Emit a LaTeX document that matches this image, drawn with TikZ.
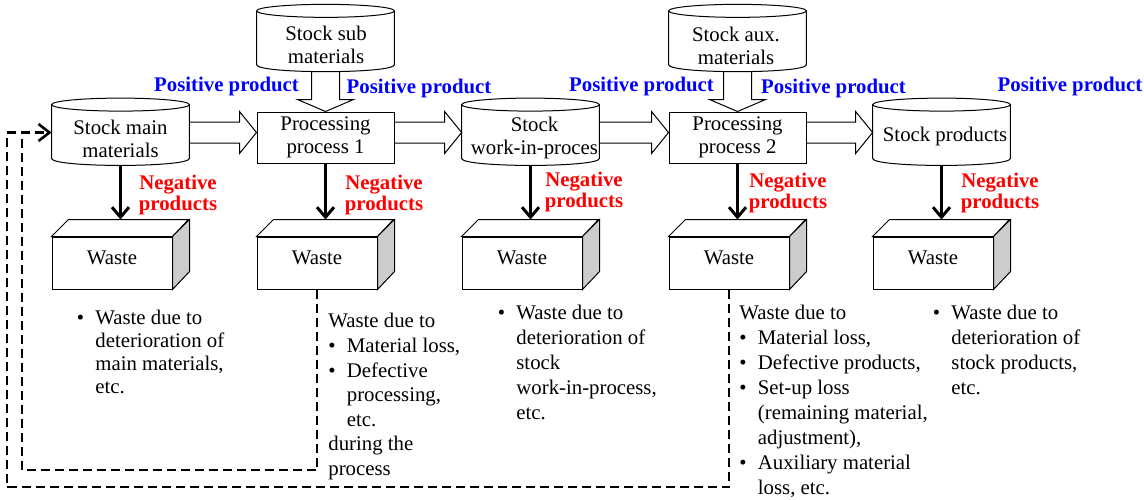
\documentclass[tikz,border=0pt]{standalone}
\usepackage{fontspec}
\setmainfont{Liberation Serif}
\usetikzlibrary{calc,arrows.meta}

\definecolor{posblue}{RGB}{0,0,255}
\definecolor{negred}{RGB}{255,0,0}
\definecolor{sidegray}{RGB}{204,204,204}

\newcommand\mainfs{\fontsize{10.4}{11.5}\selectfont}
\newcommand\bul{\makebox[9.25pt][l]{\textbullet}}
\newcommand\ind{\hspace*{9.25pt}}

\tikzset{
  outline/.style={line width=0.5pt},
  body/.style={inner sep=0pt, minimum width=68.5pt, minimum height=32.5pt},
  procbox/.style={outline, draw, fill=white, inner sep=0pt, minimum width=68.5pt,
    minimum height=25.5pt, align=center, font=\mainfs},
  cyltext/.style={inner sep=0pt, align=center, font=\mainfs},
  wastefront/.style={outline, draw, fill=white, inner sep=0pt, minimum width=60pt, minimum height=26pt},
  wastetext/.style={inner sep=0pt, font=\mainfs},
  hollow/.style={outline, line join=miter},
  neg/.style={line width=1.5pt, -{Straight Barb[length=5pt,width=8.5pt]}},
  fb/.style={line width=1.3pt, dash pattern=on 4.5pt off 2.5pt},
  fbarrow/.style={fb, -{Straight Barb[length=5.5pt,width=8.5pt]}},
  poslbl/.style={inner sep=0pt, text=posblue, font=\fontsize{10.4}{11.5}\selectfont\bfseries},
  neglbl/.style={inner sep=0pt, text=negred, align=center, font=\fontsize{10.4}{10.5}\selectfont\bfseries},
  note/.style={anchor=north west, inner sep=0pt, align=left, font=\fontsize{10.4}{12.5}\selectfont},
}

% cylinder outline drawn around an invisible body node
\newcommand\drawcyl[1]{%
  \draw[outline, fill=white] let \p1=(#1.north west), \p2=(#1.south east) in
    (\x1,\y1-2.5pt) -- (\x1,\y2+3.5pt)
    .. controls (\x1,\y2-1.17pt) and (\x2,\y2-1.17pt) .. (\x2,\y2+3.5pt)
    -- (\x2,\y1-2.5pt);
  \draw[outline, fill=white] let \p1=(#1.north west), \p2=(#1.south east) in
    ({(\x1+\x2)/2},\y1-2.5pt) ellipse [x radius={(\x2-\x1)/2}, y radius=3.25pt];}

% hollow block arrow to the right: from, to, node giving its height
\newcommand\hollowright[3]{%
  \draw[hollow] let \p1=(#1.east |- #3.east), \p2=(#2.west |- #3.east) in
    (\x1,\y1+5.25pt) -- (\x2-8.5pt,\y1+5.25pt) -- (\x2-8.5pt,\y1+10.5pt) -- (\x2,\y1)
    -- (\x2-8.5pt,\y1-10.5pt) -- (\x2-8.5pt,\y1-5.25pt) -- (\x1,\y1-5.25pt);}

% hollow block arrow downwards: from, to
\newcommand\hollowdown[2]{%
  \draw[hollow] let \p1=(#1.south), \p2=(#2.north) in
    (\x1-7pt,\y1) -- (\x1-7pt,\y2+6pt) -- (\x1-14pt,\y2+6pt) -- (\x1,\y2)
    -- (\x1+14pt,\y2+6pt) -- (\x1+7pt,\y2+6pt) -- (\x1+7pt,\y1);}

% waste box: name, x of front centre
\newcommand\wastebox[2]{%
  \node[wastefront] (#1) at (#2,263) {};
  \draw[outline, fill=white] (#1.north west) -- ++(17,-17) -- ++(120,0) -- (#1.north east) -- cycle;
  \draw[outline, fill=sidegray] (#1.north east) -- ++(17,-17) -- ++(0,52) -- (#1.south east) -- cycle;
  \coordinate (#1top) at ($(#1.north west)+(17,-17)$);
  \node[wastetext] (#1t) at ($(#1.center)+(0,-5)$) {Waste};}

\begin{document}
\begin{tikzpicture}[x=0.5pt,y=-0.5pt]
\useasboundingbox (0,0) rectangle (1144,499);

% stocks and processes
\node[body] (main) at (120.5,132.5) {};
\node[body] (sub)  at (325.5,38.75) {};
\node[body] (wip)  at (530.5,132.5) {};
\node[body] (aux)  at (737.5,38.75) {};
\node[body] (prod) at (941.5,132.5) {};
\drawcyl{main}
\drawcyl{sub}
\drawcyl{wip}
\drawcyl{aux}
\drawcyl{prod}
\node[procbox] (p1) at (325.5,137.5) {Processing\\process 1};
\node[procbox] (p2) at (737.5,137.5) {Processing\\process 2};

\node[cyltext] (mainT) at (120.5,138.5) {Stock main\\materials};
\node[cyltext] (subT)  at (326,45)     {Stock sub\\materials};
\node[cyltext] (wipT)  at (534.5,138)  {Stock\\work-in-proces};
\node[cyltext] (auxT)  at (736,45.5)   {Stock aux.\\materials};
\node[cyltext] (prodT) at (945,136)    {Stock products};

% flow of positive products
\hollowright{main}{p1}{main}
\hollowright{p1}{wip}{wip}
\hollowright{wip}{p2}{wip}
\hollowright{p2}{prod}{prod}
\hollowdown{sub}{p1}
\hollowdown{aux}{p2}

\node[poslbl] (pos1) at (226.5,86) {Positive product};
\node[poslbl] (pos2) at (419,88)   {Positive product};
\node[poslbl] (pos3) at (641.5,86) {Positive product};
\node[poslbl] (pos4) at (833.5,88) {Positive product};
\node[poslbl] (pos5) at (1070,86)  {Positive product};

% waste boxes
\wastebox{w1}{112}
\wastebox{w2}{317}
\wastebox{w3}{522}
\wastebox{w4}{729}
\wastebox{w5}{933}

% negative products
\draw[neg] (main.south) -- (main.south |- w1top);
\draw[neg] (p1.south)   -- (p1.south |- w2top);
\draw[neg] (wip.south)  -- (wip.south |- w3top);
\draw[neg] (p2.south)   -- (p2.south |- w4top);
\draw[neg] (prod.south) -- (prod.south |- w5top);

\node[neglbl] (neg1) at (178,195)  {Negative\\products};
\node[neglbl] (neg2) at (384,195)  {Negative\\products};
\node[neglbl] (neg3) at (584,192)  {Negative\\products};
\node[neglbl] (neg4) at (788,193)  {Negative\\products};
\node[neglbl] (neg5) at (1000,193) {Negative\\products};

% feedback of process waste to the main materials
\coordinate (loopin)  at (22,470);
\coordinate (loopout) at (7,487);
\draw[fb] (w2.south) |- (loopin) -- (loopin |- main.west);
\draw[fbarrow] (w4.south) |- (loopout) |- (main.west);

% notes
\node[note, font=\fontsize{10.4}{11.5}\selectfont] (n1) at (76.5,310)
  {\bul Waste due to\\\ind deterioration of\\\ind main materials,\\\ind etc.};
\node[note, font=\fontsize{10.4}{12.3}\selectfont] (n2) at (328,313)
  {Waste due to\\\bul Material loss,\\\bul Defective\\\ind processing,\\\ind etc.\\during the\\process};
\node[note] (n3) at (497.5,305)
  {\bul Waste due to\\\ind deterioration of\\\ind stock\\\ind work-in-process,\\\ind etc.};
\node[note] (n4) at (739,305)
  {Waste due to\\\bul Material loss,\\\bul Defective products,\\\bul Set-up loss\\\ind (remaining material,\\\ind adjustment),\\\bul Auxiliary material\\\ind loss, etc.};
\node[note] (n5) at (932.5,305)
  {\bul Waste due to\\\ind deterioration of\\\ind stock products,\\\ind etc.};
\end{tikzpicture}
\end{document}
